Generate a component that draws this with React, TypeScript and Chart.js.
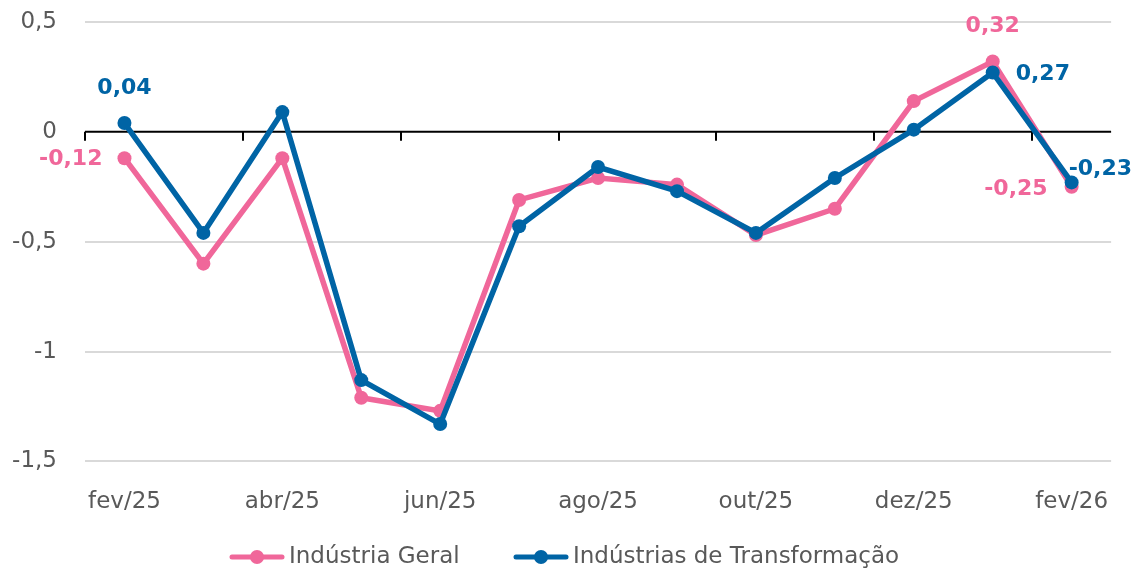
import React, { useEffect, useRef } from "react";
import { Chart, registerables } from "chart.js";

Chart.register(...registerables);

const categories = [
  "fev/25", "mar/25", "abr/25", "mai/25", "jun/25", "jul/25", "ago/25",
  "set/25", "out/25", "nov/25", "dez/25", "jan/26", "fev/26",
];
const industriaGeral = [-0.12, -0.6, -0.12, -1.21, -1.27, -0.31, -0.21, -0.24, -0.47, -0.35, 0.14, 0.32, -0.25];
const industriasTransformacao = [0.04, -0.46, 0.09, -1.13, -1.33, -0.43, -0.16, -0.27, -0.46, -0.21, 0.01, 0.27, -0.23];
const seriesNames = ["Indústria Geral", "Indústrias de Transformação"];
const yMin = -1.5;
const yMax = 0.5;
const yStep = 0.5;

const PINK = "#F0679A";
const BLUE = "#0064A5";
const TEXT = "#595959";
const FONT = "'DejaVu Sans', sans-serif";

// which points carry value labels, and where (dataset index, point index, placement)
const labelSpecs = [
  { ds: 1, i: 0, dx: 0, dy: -35, align: "center" },
  { ds: 0, i: 0, dx: -22, dy: 1, align: "right" },
  { ds: 0, i: 11, dx: 0, dy: -35, align: "center" },
  { ds: 1, i: 11, dx: 23, dy: 2, align: "left" },
  { ds: 1, i: 12, dx: -3, dy: -13, align: "left" },
  { ds: 0, i: 12, dx: -24, dy: 3, align: "right" },
];

// legend item left edges (px)
const legendX = [229, 513];

const fmt = (v: number, digits?: number) =>
  (digits === undefined ? String(v) : v.toFixed(digits)).replace(".", ",");

function makeMarker(color: string) {
  const c = document.createElement("canvas");
  c.width = 56;
  c.height = 16;
  const ctx = c.getContext("2d")!;
  ctx.strokeStyle = color;
  ctx.lineWidth = 5;
  ctx.lineCap = "round";
  ctx.beginPath();
  ctx.moveTo(3, 8);
  ctx.lineTo(53, 8);
  ctx.stroke();
  ctx.fillStyle = color;
  ctx.beginPath();
  ctx.arc(28, 8, 7, 0, Math.PI * 2);
  ctx.fill();
  return c;
}

export default function App() {
  const ref = useRef<HTMLCanvasElement>(null);

  useEffect(() => {
    document.body.style.margin = "0";
    const canvas = ref.current!;
    const markers = [makeMarker(PINK), makeMarker(BLUE)];

    const zeroTicksPlugin = {
      id: "zeroTicks",
      beforeDatasetsDraw(chart: any) {
        const { ctx, scales } = chart;
        const x = scales.x;
        const y0 = scales.y.getPixelForValue(0);
        const half = (x.getPixelForValue(1) - x.getPixelForValue(0)) / 2;
        ctx.save();
        ctx.strokeStyle = "#000";
        ctx.lineWidth = 2;
        ctx.beginPath();
        ctx.moveTo(chart.chartArea.left, y0);
        ctx.lineTo(chart.chartArea.right, y0);
        ctx.stroke();
        for (let k = 0; k < categories.length; k += 2) {
          const px = Math.round(x.getPixelForValue(k) - half);
          ctx.beginPath();
          ctx.moveTo(px, y0);
          ctx.lineTo(px, y0 + 9);
          ctx.stroke();
        }
        ctx.restore();
      },
    };

    const valueLabelsPlugin = {
      id: "valueLabels",
      afterDatasetsDraw(chart: any) {
        const { ctx } = chart;
        ctx.save();
        ctx.font = `bold 22px ${FONT}`;
        ctx.textBaseline = "middle";
        for (const s of labelSpecs) {
          const el = chart.getDatasetMeta(s.ds).data[s.i];
          const v = chart.data.datasets[s.ds].data[s.i] as number;
          ctx.fillStyle = s.ds === 0 ? PINK : BLUE;
          ctx.textAlign = s.align;
          ctx.fillText(fmt(v, 2), el.x + s.dx, el.y + s.dy);
        }
        ctx.restore();
      },
    };

    const legendPlugin = {
      id: "customLegend",
      afterDraw(chart: any) {
        const { ctx } = chart;
        ctx.save();
        ctx.font = `23px ${FONT}`;
        ctx.textBaseline = "middle";
        ctx.textAlign = "left";
        const y = 557;
        seriesNames.forEach((n, idx) => {
          const x = legendX[idx];
          ctx.drawImage(markers[idx], x, y - 8);
          ctx.fillStyle = TEXT;
          ctx.fillText(n, x + 60, y);
        });
        ctx.restore();
      },
    };

    const chart = new Chart(canvas, {
      type: "line",
      data: {
        labels: categories,
        datasets: [
          {
            label: seriesNames[0],
            data: industriaGeral,
            borderColor: PINK,
            backgroundColor: PINK,
            borderWidth: 5.5,
            pointRadius: 7,
            pointBorderWidth: 0,
            pointBackgroundColor: PINK,
            order: 1,
          },
          {
            label: seriesNames[1],
            data: industriasTransformacao,
            borderColor: BLUE,
            backgroundColor: BLUE,
            borderWidth: 5.5,
            pointRadius: 7,
            pointBorderWidth: 0,
            pointBackgroundColor: BLUE,
            order: 0,
          },
        ],
      },
      options: {
        animation: false,
        responsive: false,
        maintainAspectRatio: false,
        layout: { padding: { top: 22, right: 24, bottom: 28, left: 0 } },
        plugins: {
          legend: { display: false },
          tooltip: { enabled: false },
        },
        scales: {
          x: {
            offset: true,
            grid: { display: false, drawTicks: false },
            border: { display: false },
            ticks: {
              autoSkip: false,
              maxRotation: 0,
              padding: 27,
              color: TEXT,
              font: { family: FONT, size: 23 },
              callback: (_v: any, i: number) => (i % 2 === 0 ? categories[i] : null),
            },
          },
          y: {
            min: yMin,
            max: yMax,
            afterFit: (s: any) => {
              s.width = 85;
              s.paddingTop = 0;
              s.paddingBottom = 0;
            },
            grid: {
              drawTicks: false,
              lineWidth: 2,
              color: (c: any) => (c.tick && c.tick.value === 0 ? "rgba(0,0,0,0)" : "#D9D9D9"),
            },
            border: { display: false },
            ticks: {
              stepSize: yStep,
              padding: 28,
              color: TEXT,
              font: { family: FONT, size: 23 },
              callback: (v: any) => fmt(Number(v)),
            },
          },
        },
      },
      plugins: [zeroTicksPlugin, valueLabelsPlugin, legendPlugin],
    });
    return () => chart.destroy();
  }, []);

  return (
    <div style={{ width: 1136, height: 571 }}>
      <canvas ref={ref} width={1136} height={571} style={{ width: 1136, height: 571, display: "block" }} />
    </div>
  );
}
